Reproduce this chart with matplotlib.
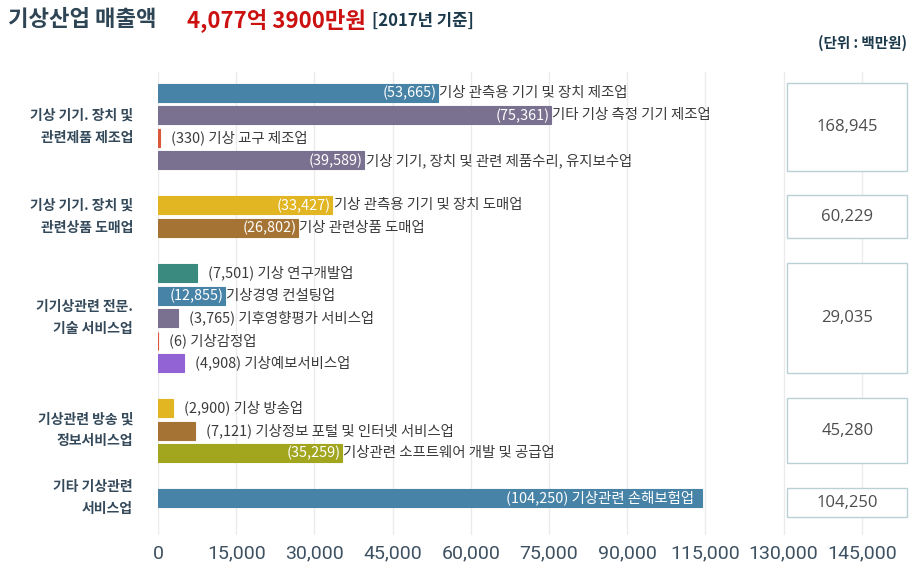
import matplotlib
matplotlib.use("Agg")
import matplotlib.pyplot as plt
from matplotlib.patches import Rectangle

plt.rcParams['font.family'] = ['Noto Sans CJK KR', 'DejaVu Sans']

# ===========================
# DATA
# ===========================

group_names = [
    "기상 기기. 장치 및\n관련제품 제조업",
    "기상 기기. 장치 및\n관련상품 도매업",
    "기기상관련 전문.\n기술 서비스업",
    "기상관련 방송 및\n정보서비스업",
    "기타 기상관련\n서비스업",
]

item_names = [
    ["기상 관측용 기기 및 장치 제조업", "기타 기상 측정 기기 제조업",
     "기상 교구 제조업", "기상 기기, 장치 및 관련 제품수리, 유지보수업"],
    ["기상 관측용 기기 및 장치 도매업", "기상 관련상품 도매업"],
    ["기상 연구개발업", "기상경영 컨설팅업", "기후영향평가 서비스업",
     "기상감정업", "기상예보서비스업"],
    ["기상 방송업", "기상정보 포털 및 인터넷 서비스업",
     "기상관련 소프트웨어 개발 및 공급업"],
    ["기상관련 손해보험업"],
]

item_values = [
    [53665, 75361, 330, 39589],
    [33427, 26802],
    [7501, 12855, 3765, 6, 4908],
    [2900, 7121, 35259],
    [104250],
]

item_colors = [
    ["#4782a7", "#7a7190", "#d9573a", "#7a7190"],
    ["#e2b523", "#a57434"],
    ["#3a8a80", "#4782a7", "#7a7190", "#d9573a", "#9163d4"],
    ["#e2b523", "#a57434", "#a2a61f"],
    ["#4782a7"],
]

tick_values = [0, 15000, 30000, 45000, 60000, 75000, 90000, 105000, 120000, 135000]
tick_labels = ["0", "15,000", "30,000", "45,000", "60,000", "75,000",
               "90,000", "115,000", "130,000", "145,000"]

# ===========================
# FIGURE
# ===========================

fig = plt.figure(figsize=(9.2, 5.74), dpi=100)
ax = fig.add_axes([158 / 920, 1 - 535 / 574, 756 / 920, 463 / 574])

text_dark = "#3b3b3b"
label_color = "#34495a"

pos = 0
for g, (name, values, names, colors) in enumerate(zip(group_names, item_values, item_names, item_colors)):
    ys = []
    for v, n, c in zip(values, names, colors):
        ax.barh(pos, v, height=0.8, color=c, edgecolor=c, lw=0.8, zorder=2)
        if v > 100000:
            ax.annotate(f"({v:,}) {n}", (v, pos), xytext=(-5, 0), textcoords="offset points",
                        ha="right", va="center", fontsize=10.4, color="white", zorder=3)
        elif v > 10000:
            ax.annotate(f"({v:,})", (v, pos), xytext=(-1, 0), textcoords="offset points",
                        ha="right", va="center", fontsize=10.4, color="white", zorder=3)
            ax.annotate(n, (v, pos), xytext=(1, 0), textcoords="offset points",
                        ha="left", va="center", fontsize=10.4, color=text_dark, zorder=3)
        else:
            ax.annotate(f"({v:,}) {n}", (v, pos), xytext=(8, 0), textcoords="offset points",
                        ha="left", va="center", fontsize=10.4, color=text_dark, zorder=3)
        ys.append(pos)
        pos += 1

    # group label on the left
    mid = (ys[0] + ys[-1]) / 2
    ax.annotate(name, (0, mid), xytext=(-18, 0), textcoords="offset points",
                ha="right", va="center", fontsize=10, fontweight="bold",
                color=label_color, linespacing=1.7, annotation_clip=False)

    # total box on the right
    top = ys[0] - 0.45
    h = max(ys[-1] - ys[0] + 0.9, 1.3)
    ax.add_patch(Rectangle((120700, top), 23000, h, facecolor="white",
                           edgecolor="#b9d0d6", lw=1, zorder=4))
    ax.text(120700 + 11500, top + h / 2, f"{sum(values):,}", ha="center", va="center",
            fontsize=12, family="Open Sans", color="#4d4d4d", zorder=5)
    pos += 1

ax.set_xlim(0, 145000)
ax.set_ylim(19.64, -0.93)
ax.set_xticks(tick_values)
ax.set_xticklabels(tick_labels, family="Roboto", fontsize=14, color="#3d5162")
ax.set_yticks([])
ax.tick_params(axis="x", length=0, pad=7)
ax.grid(axis="x", color="#ebebeb", lw=1, zorder=0)
ax.set_axisbelow(True)
for s in ax.spines.values():
    s.set_visible(False)

# ===========================
# TITLE
# ===========================

fig.text(8 / 920, 1 - 20 / 574, "기상산업 매출액", fontsize=16, fontweight="bold",
         color="#2e4555", va="center", ha="left")
fig.text(187 / 920, 1 - 20 / 574, "4,077억 3900만원", fontsize=16, fontweight="bold",
         color="#cc1111", va="center", ha="left")
fig.text(372 / 920, 1 - 21 / 574, "[2017년 기준]", fontsize=12, fontweight="bold",
         color="#1d3a4c", va="center", ha="left")
fig.text(907 / 920, 1 - 43 / 574, "(단위 : 백만원)", fontsize=10.5, fontweight="bold",
         color="#1d3a4c", va="center", ha="right")

fig.savefig("out.png", dpi=100, facecolor="white")
